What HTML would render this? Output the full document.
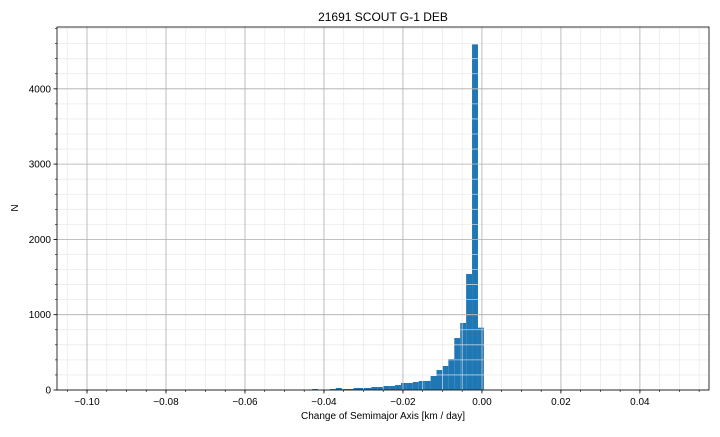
<!DOCTYPE html>
<html><head><meta charset="utf-8"><style>
body{margin:0;background:#fff;width:720px;height:432px;overflow:hidden}
text{font-family:"Liberation Sans",sans-serif;fill:#000}
</style></head><body>
<svg id="chart" width="720" height="432" xmlns="http://www.w3.org/2000/svg">
<rect width="720" height="432" fill="#fff"/>
<g id="bars"></g><g id="grid"></g><g id="axes"></g>
<text x="383" y="21" text-anchor="middle" font-size="12">21691 SCOUT G-1 DEB</text>
<text x="383" y="419" text-anchor="middle" font-size="10">Change of Semimajor Axis [km / day]</text>
<text x="18" y="208" text-anchor="middle" font-size="10" transform="rotate(-90 18 208)">N</text>
</svg>
<script>
const binStart = -0.043;
const binWidth = 0.0015;
const counts = [13,0,0,13,27,13,13,27,27,27,40,40,53,53,66,93,93,106,120,120,186,265,319,411,690,890,1540,4590,828,5];
const xTicks = [-0.10,-0.08,-0.06,-0.04,-0.02,0.00,0.02,0.04];
const xTickLabels = ["\u22120.10","\u22120.08","\u22120.06","\u22120.04","\u22120.02","0.00","0.02","0.04"];
const yTicks = [0,1000,2000,3000,4000];
const yTickLabels = ["0","1000","2000","3000","4000"];
const L=57,R=709,T=27,B=390;
const xMin=-0.1076,xMax=0.0575,yMax=4821;
const X=v=>L+(v-xMin)/(xMax-xMin)*(R-L);
const Y=v=>B-v/yMax*(B-T);
const NS="http://www.w3.org/2000/svg";
function mk(tag,attrs,parent){const e=document.createElementNS(NS,tag);for(const k in attrs)e.setAttribute(k,attrs[k]);parent.appendChild(e);return e;}
const grid=document.getElementById('grid'),bars=document.getElementById('bars'),axes=document.getElementById('axes');
for(let v=-0.105;v<=0.056;v+=0.005){const x=X(v);if(x<L||x>R)continue;
 const l=mk('line',{x1:x,x2:x,y1:T,y2:B,stroke:'#e6e6e6','stroke-opacity':0.8,'stroke-width':0.8},grid);
 
 const t=mk('line',{x1:x,x2:x,y1:B,y2:B+2,stroke:'#000','stroke-width':0.6},axes);
 }
for(let v=200;v<yMax;v+=200){const y=Y(v);
 const l=mk('line',{x1:L,x2:R,y1:y,y2:y,stroke:'#e6e6e6','stroke-opacity':0.8,'stroke-width':0.8},grid);
 
 const t=mk('line',{x1:L-2,x2:L,y1:y,y2:y,stroke:'#000','stroke-width':0.6},axes);
 }
xTicks.forEach((v,i)=>{const x=X(v);
 const g=mk('line',{x1:x,x2:x,y1:T,y2:B,stroke:'#b0b0b0','stroke-width':0.8},grid);
 
 const t=mk('line',{x1:x,x2:x,y1:B,y2:B+3.5,stroke:'#000','stroke-width':0.8},axes);
 
 const tx=mk('text',{x:x,y:B+15,'text-anchor':'middle','font-size':10},axes);tx.textContent=xTickLabels[i];
 });
yTicks.forEach((v,i)=>{const y=Y(v);
 const g=mk('line',{x1:L,x2:R,y1:y,y2:y,stroke:'#b0b0b0','stroke-width':0.8},grid);
 
 const t=mk('line',{x1:L-3.5,x2:L,y1:y,y2:y,stroke:'#000','stroke-width':0.8},axes);
 
 const tx=mk('text',{x:L-6,y:y+3.5,'text-anchor':'end','font-size':10},axes);tx.textContent=yTickLabels[i];
 });
counts.forEach((c,i)=>{if(c<=0)return;const x0=X(binStart+i*binWidth),x1=X(binStart+(i+1)*binWidth);
 const r=mk('rect',{x:x0,y:Y(c),width:x1-x0,height:B-Y(c),fill:'#1f77b4'},bars);
 });
const f=mk('rect',{x:L,y:T,width:R-L,height:B-T,fill:'none',stroke:'#000','stroke-width':0.8},axes);

</script>
</body></html>
